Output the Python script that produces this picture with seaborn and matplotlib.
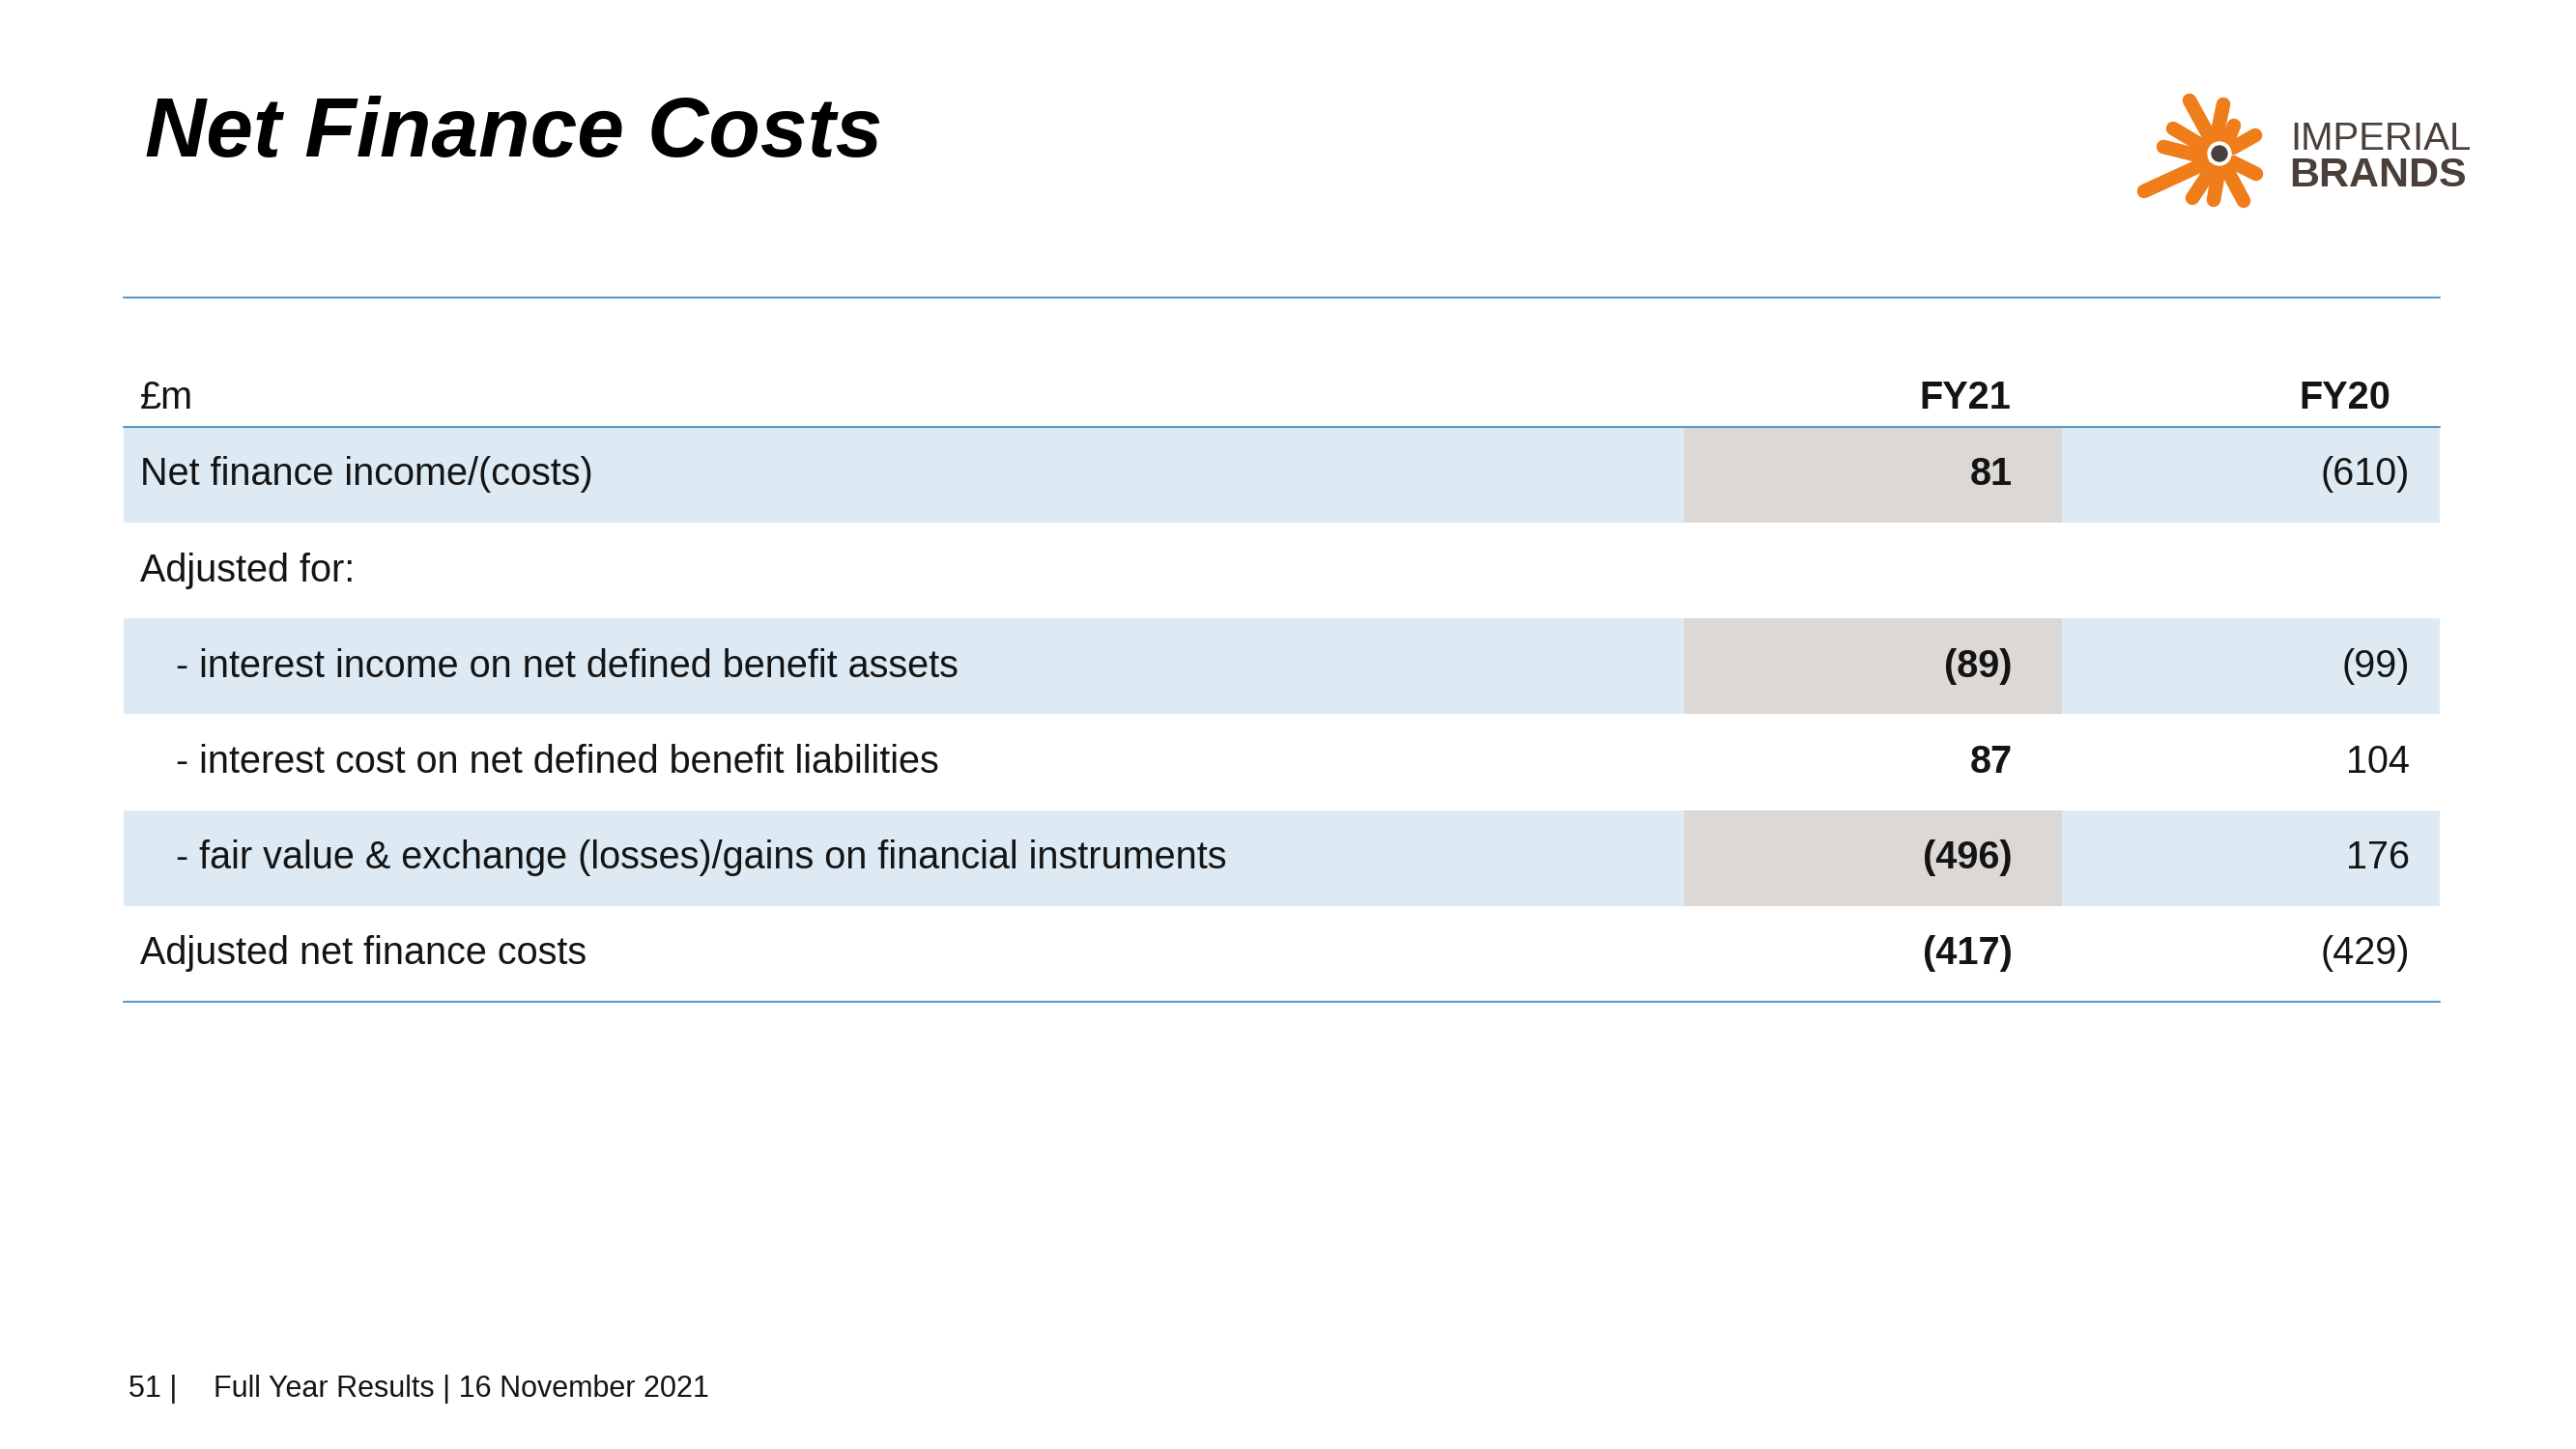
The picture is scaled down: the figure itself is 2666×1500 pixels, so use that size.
import numpy as np
import pandas as pd
import seaborn as sns
import matplotlib.pyplot as plt

# table content
row_labels = [
    "Net finance income/(costs)",
    "Adjusted for:",
    "- interest income on net defined benefit assets",
    "- interest cost on net defined benefit liabilities",
    "- fair value & exchange (losses)/gains on financial instruments",
    "Adjusted net finance costs",
]
indented = [False, False, True, True, True, False]
fy21 = [81, None, -89, 87, -496, -417]
fy20 = [-610, None, -99, 104, 176, -429]
shaded = [True, False, True, False, True, False]
year_labels = ["FY21", "FY20"]
unit_label = "£m"

title = "Net Finance Costs"
footer_page = "51 |"
footer_text = "Full Year Results | 16 November 2021"

BLUE_BAND = "#ddeaf4"
GREY_CELL = "#dbd8d5"
RULE = "#5a9ac8"
INK = "#141414"
ORANGE = "#ef7d1a"
BROWN = "#4a3f39"


def fmt(v):
    if v is None:
        return ""
    return f"({abs(v)})" if v < 0 else f"{v}"


df = pd.DataFrame({"label": row_labels, "indent": indented,
                   "FY21": fy21, "FY20": fy20, "shaded": shaded})
df["band"] = np.where(df["shaded"], 1.0, 0.0)

sns.set_theme(style="white")
plt.rcParams["font.family"] = ["Liberation Sans", "DejaVu Sans"]

W, H = 2666, 1500
fig = plt.figure(figsize=(W / 100, H / 100), dpi=100)
fig.patch.set_facecolor("white")

# table axes: x in pixel-like units, y in row positions
tx0, tx1 = 128, 2525
ty0, ty1 = 308, 1037
ax = fig.add_axes([tx0 / W, 1 - ty1 / H, (tx1 - tx0) / W, (ty1 - ty0) / H])
table_w = tx1 - tx0
col21_left, col21_right = 1615, 2006
x_label, x_indent = 17, 54
x_fy21, x_fy20 = 1955, 2366
x_head21, x_head20 = 1953, 2346

df["band_w"] = df["band"] * table_w
sns.barplot(data=df, x="band_w", y="label", order=row_labels, orient="h",
            color=BLUE_BAND, saturation=1, width=1.0, linewidth=0, ax=ax)
shaded_pos = [i for i, s in enumerate(shaded) if s]
ax.barh(shaded_pos, col21_right - col21_left, left=col21_left, height=1.0,
        color=GREY_CELL, linewidth=0)

ax.set_xlim(0, table_w)
ax.set_ylim(5.5, -1.85)
ax.axis("off")

for y in [-1.85, -0.5, 5.5]:
    ax.axhline(y, color=RULE, lw=1.5, clip_on=False)

fs = 28.5
head_y = -0.80
ax.text(x_label, head_y, unit_label, ha="left", va="center", fontsize=fs, color=INK)
ax.text(x_head21, head_y, year_labels[0], ha="right", va="center", fontsize=fs,
        color=INK, fontweight="bold")
ax.text(x_head20, head_y, year_labels[1], ha="right", va="center", fontsize=fs,
        color=INK, fontweight="bold")

for i, r in df.iterrows():
    ax.text(x_indent if r["indent"] else x_label, i, r["label"], ha="left",
            va="center", fontsize=fs, color=INK)
    ax.text(x_fy21, i, fmt(fy21[i]), ha="right", va="center", fontsize=fs,
            color=INK, fontweight="bold")
    ax.text(x_fy20, i, fmt(fy20[i]), ha="right", va="center", fontsize=fs,
            color=INK)

# title and footer
fig.text(150 / W, 1 - 162 / H, title, ha="left", va="baseline", fontsize=63,
         fontweight="bold", fontstyle="italic", color="black")
fig.text(133 / W, 1 - 1446 / H, footer_page, ha="left", va="baseline",
         fontsize=22, color=INK)
fig.text(221 / W, 1 - 1446 / H, footer_text, ha="left", va="baseline",
         fontsize=22, color=INK)

# logo
cx, cy = 2297, 159
lax = fig.add_axes([(cx - 90) / W, 1 - (cy + 90) / H, 180 / W, 180 / H])
lax.set_xlim(-90, 90)
lax.set_ylim(90, -90)
lax.axis("off")
arms = [
    ((-9, -15), (-31, -55)),
    ((-3, -17), (4, -51)),
    ((-16, -7), (-48, -26)),
    ((-18, 3), (-58, -7)),
    ((-17, 11), (-78, 39)),
    ((-8, 16), (-28, 46)),
    ((-1, 19), (-6, 48)),
    ((8, 17), (25, 49)),
    ((14, 9), (38, 21)),
    ((14, -6), (37, -19)),
    ((8, -12), (15, -29)),
]
for (x0, y0), (x1, y1) in arms:
    lax.plot([x0, x1], [y0, y1], color=ORANGE, lw=10.5, solid_capstyle="round")
lax.add_patch(plt.Circle((0, 0), 12, color="white", zorder=4))
lax.add_patch(plt.Circle((0, 0), 8, color=BROWN, zorder=5))

fig.text(2370 / W, 1 - 155 / H, "IMPERIAL", ha="left", va="baseline",
         fontsize=29, color=BROWN)
fig.text(2369 / W, 1 - 193 / H, "BRANDS", ha="left", va="baseline",
         fontsize=31, fontweight="bold", color=BROWN)

fig.savefig("out.png", dpi=100, facecolor="white")
